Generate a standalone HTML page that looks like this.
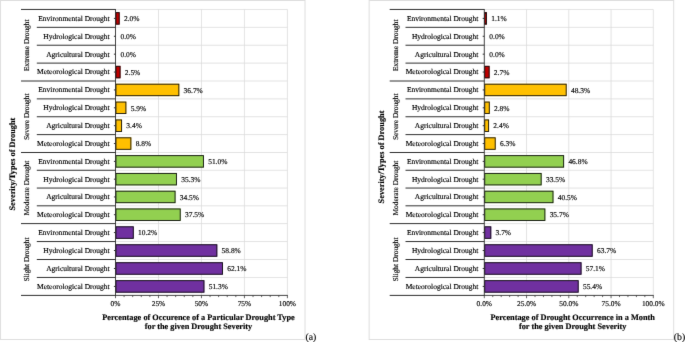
<!DOCTYPE html>
<html><head><meta charset="utf-8"><style>
html,body{margin:0;padding:0;background:#fff;width:685px;height:342px;overflow:hidden}
svg{display:block;will-change:transform}
text{font-family:"Liberation Serif",serif;fill:#000;text-rendering:geometricPrecision;stroke:#000;stroke-width:0.15px;paint-order:stroke}
.t{opacity:0.999}
</style></head><body>
<svg width="685" height="342" viewBox="0 0 685 342">
<rect width="685" height="342" fill="#fff"/>
<defs><filter id="bl" x="0" y="0" width="685" height="342" filterUnits="userSpaceOnUse" color-interpolation-filters="sRGB"><feConvolveMatrix order="3" kernelMatrix="0.00524 0.06192 0.00524 0.06192 0.73137 0.06192 0.00524 0.06192 0.00524" edgeMode="duplicate"/></filter></defs>
<g class="t" filter="url(#bl)">
<rect x="0.45" y="0.5" width="304.55" height="339" fill="none" stroke="#dedede" stroke-width="1"/>
<line x1="115.5" y1="9.45" x2="287.4" y2="9.45" stroke="#d9d9d9" stroke-width="0.75"/>
<line x1="115.5" y1="27.34" x2="287.4" y2="27.34" stroke="#d9d9d9" stroke-width="0.75"/>
<line x1="115.5" y1="45.22" x2="287.4" y2="45.22" stroke="#d9d9d9" stroke-width="0.75"/>
<line x1="115.5" y1="63.11" x2="287.4" y2="63.11" stroke="#d9d9d9" stroke-width="0.75"/>
<line x1="115.5" y1="81.00" x2="287.4" y2="81.00" stroke="#d9d9d9" stroke-width="0.75"/>
<line x1="115.5" y1="98.88" x2="287.4" y2="98.88" stroke="#d9d9d9" stroke-width="0.75"/>
<line x1="115.5" y1="116.75" x2="287.4" y2="116.75" stroke="#d9d9d9" stroke-width="0.75"/>
<line x1="115.5" y1="134.62" x2="287.4" y2="134.62" stroke="#d9d9d9" stroke-width="0.75"/>
<line x1="115.5" y1="152.50" x2="287.4" y2="152.50" stroke="#d9d9d9" stroke-width="0.75"/>
<line x1="115.5" y1="170.28" x2="287.4" y2="170.28" stroke="#d9d9d9" stroke-width="0.75"/>
<line x1="115.5" y1="188.05" x2="287.4" y2="188.05" stroke="#d9d9d9" stroke-width="0.75"/>
<line x1="115.5" y1="205.82" x2="287.4" y2="205.82" stroke="#d9d9d9" stroke-width="0.75"/>
<line x1="115.5" y1="223.60" x2="287.4" y2="223.60" stroke="#d9d9d9" stroke-width="0.75"/>
<line x1="115.5" y1="241.55" x2="287.4" y2="241.55" stroke="#d9d9d9" stroke-width="0.75"/>
<line x1="115.5" y1="259.50" x2="287.4" y2="259.50" stroke="#d9d9d9" stroke-width="0.75"/>
<line x1="115.5" y1="277.45" x2="287.4" y2="277.45" stroke="#d9d9d9" stroke-width="0.75"/>
<line x1="158.47" y1="9.45" x2="158.47" y2="295.4" stroke="#d9d9d9" stroke-width="0.75"/>
<line x1="201.45" y1="9.45" x2="201.45" y2="295.4" stroke="#d9d9d9" stroke-width="0.75"/>
<line x1="244.42" y1="9.45" x2="244.42" y2="295.4" stroke="#d9d9d9" stroke-width="0.75"/>
<line x1="287.40" y1="9.45" x2="287.40" y2="295.4" stroke="#d9d9d9" stroke-width="0.75"/>
<rect x="115.50" y="12.19" width="4.14" height="12.40" fill="#C00000"/>
<rect x="115.95" y="12.64" width="3.24" height="11.50" fill="none" stroke="#111" stroke-width="0.9"/>
<text x="123.94" y="21.14" font-size="7.45">2.0%</text>
<text x="120.50" y="39.03" font-size="7.45">0.0%</text>
<text x="120.50" y="56.92" font-size="7.45">0.0%</text>
<rect x="115.50" y="65.86" width="5.00" height="12.40" fill="#C00000"/>
<rect x="115.95" y="66.31" width="4.10" height="11.50" fill="none" stroke="#111" stroke-width="0.9"/>
<text x="124.80" y="74.81" font-size="7.45">2.5%</text>
<rect x="115.50" y="83.74" width="63.79" height="12.40" fill="#FFC000"/>
<rect x="115.95" y="84.19" width="62.89" height="11.50" fill="none" stroke="#111" stroke-width="0.9"/>
<text x="183.59" y="92.69" font-size="7.45">36.7%</text>
<rect x="115.50" y="101.61" width="10.84" height="12.40" fill="#FFC000"/>
<rect x="115.95" y="102.06" width="9.94" height="11.50" fill="none" stroke="#111" stroke-width="0.9"/>
<text x="130.64" y="110.56" font-size="7.45">5.9%</text>
<rect x="115.50" y="119.49" width="6.54" height="12.40" fill="#FFC000"/>
<rect x="115.95" y="119.94" width="5.64" height="11.50" fill="none" stroke="#111" stroke-width="0.9"/>
<text x="126.34" y="128.44" font-size="7.45">3.4%</text>
<rect x="115.50" y="137.36" width="15.83" height="12.40" fill="#FFC000"/>
<rect x="115.95" y="137.81" width="14.93" height="11.50" fill="none" stroke="#111" stroke-width="0.9"/>
<text x="135.63" y="146.31" font-size="7.45">8.8%</text>
<rect x="115.50" y="155.19" width="88.37" height="12.40" fill="#92D050"/>
<rect x="115.95" y="155.64" width="87.47" height="11.50" fill="none" stroke="#111" stroke-width="0.9"/>
<text x="208.17" y="164.14" font-size="7.45">51.0%</text>
<rect x="115.50" y="172.96" width="61.38" height="12.40" fill="#92D050"/>
<rect x="115.95" y="173.41" width="60.48" height="11.50" fill="none" stroke="#111" stroke-width="0.9"/>
<text x="181.18" y="181.91" font-size="7.45">35.3%</text>
<rect x="115.50" y="190.74" width="60.01" height="12.40" fill="#92D050"/>
<rect x="115.95" y="191.19" width="59.11" height="11.50" fill="none" stroke="#111" stroke-width="0.9"/>
<text x="179.81" y="199.69" font-size="7.45">34.5%</text>
<rect x="115.50" y="208.51" width="65.16" height="12.40" fill="#92D050"/>
<rect x="115.95" y="208.96" width="64.26" height="11.50" fill="none" stroke="#111" stroke-width="0.9"/>
<text x="184.96" y="217.46" font-size="7.45">37.5%</text>
<rect x="115.50" y="226.38" width="18.23" height="12.40" fill="#7030A0"/>
<rect x="115.95" y="226.82" width="17.33" height="11.50" fill="none" stroke="#111" stroke-width="0.9"/>
<text x="138.03" y="235.32" font-size="7.45">10.2%</text>
<rect x="115.50" y="244.32" width="101.78" height="12.40" fill="#7030A0"/>
<rect x="115.95" y="244.77" width="100.88" height="11.50" fill="none" stroke="#111" stroke-width="0.9"/>
<text x="221.58" y="253.27" font-size="7.45">58.8%</text>
<rect x="115.50" y="262.28" width="107.45" height="12.40" fill="#7030A0"/>
<rect x="115.95" y="262.73" width="106.55" height="11.50" fill="none" stroke="#111" stroke-width="0.9"/>
<text x="227.25" y="271.23" font-size="7.45">62.1%</text>
<rect x="115.50" y="280.22" width="88.88" height="12.40" fill="#7030A0"/>
<rect x="115.95" y="280.67" width="87.98" height="11.50" fill="none" stroke="#111" stroke-width="0.9"/>
<text x="208.68" y="289.17" font-size="7.45">51.3%</text>
<text x="109.7" y="20.79" font-size="7.5" text-anchor="end">Environmental Drought</text>
<line x1="113.90" y1="18.39" x2="115.5" y2="18.39" stroke="#303030" stroke-width="1"/>
<text x="109.7" y="38.68" font-size="7.5" text-anchor="end">Hydrological Drought</text>
<line x1="113.90" y1="36.28" x2="115.5" y2="36.28" stroke="#303030" stroke-width="1"/>
<text x="109.7" y="56.57" font-size="7.5" text-anchor="end">Agricultural Drought</text>
<line x1="113.90" y1="54.17" x2="115.5" y2="54.17" stroke="#303030" stroke-width="1"/>
<text x="109.7" y="74.46" font-size="7.5" text-anchor="end">Meteorological Drought</text>
<line x1="113.90" y1="72.06" x2="115.5" y2="72.06" stroke="#303030" stroke-width="1"/>
<text x="109.7" y="92.34" font-size="7.5" text-anchor="end">Environmental Drought</text>
<line x1="113.90" y1="89.94" x2="115.5" y2="89.94" stroke="#303030" stroke-width="1"/>
<text x="109.7" y="110.21" font-size="7.5" text-anchor="end">Hydrological Drought</text>
<line x1="113.90" y1="107.81" x2="115.5" y2="107.81" stroke="#303030" stroke-width="1"/>
<text x="109.7" y="128.09" font-size="7.5" text-anchor="end">Agricultural Drought</text>
<line x1="113.90" y1="125.69" x2="115.5" y2="125.69" stroke="#303030" stroke-width="1"/>
<text x="109.7" y="145.96" font-size="7.5" text-anchor="end">Meteorological Drought</text>
<line x1="113.90" y1="143.56" x2="115.5" y2="143.56" stroke="#303030" stroke-width="1"/>
<text x="109.7" y="163.79" font-size="7.5" text-anchor="end">Environmental Drought</text>
<line x1="113.90" y1="161.39" x2="115.5" y2="161.39" stroke="#303030" stroke-width="1"/>
<text x="109.7" y="181.56" font-size="7.5" text-anchor="end">Hydrological Drought</text>
<line x1="113.90" y1="179.16" x2="115.5" y2="179.16" stroke="#303030" stroke-width="1"/>
<text x="109.7" y="199.34" font-size="7.5" text-anchor="end">Agricultural Drought</text>
<line x1="113.90" y1="196.94" x2="115.5" y2="196.94" stroke="#303030" stroke-width="1"/>
<text x="109.7" y="217.11" font-size="7.5" text-anchor="end">Meteorological Drought</text>
<line x1="113.90" y1="214.71" x2="115.5" y2="214.71" stroke="#303030" stroke-width="1"/>
<text x="109.7" y="234.97" font-size="7.5" text-anchor="end">Environmental Drought</text>
<line x1="113.90" y1="232.57" x2="115.5" y2="232.57" stroke="#303030" stroke-width="1"/>
<text x="109.7" y="252.92" font-size="7.5" text-anchor="end">Hydrological Drought</text>
<line x1="113.90" y1="250.52" x2="115.5" y2="250.52" stroke="#303030" stroke-width="1"/>
<text x="109.7" y="270.88" font-size="7.5" text-anchor="end">Agricultural Drought</text>
<line x1="113.90" y1="268.48" x2="115.5" y2="268.48" stroke="#303030" stroke-width="1"/>
<text x="109.7" y="288.82" font-size="7.5" text-anchor="end">Meteorological Drought</text>
<line x1="113.90" y1="286.42" x2="115.5" y2="286.42" stroke="#303030" stroke-width="1"/>
<line x1="21" y1="9.45" x2="115.5" y2="9.45" stroke="#303030" stroke-width="1"/>
<line x1="36.8" y1="27.34" x2="115.5" y2="27.34" stroke="#303030" stroke-width="1"/>
<line x1="36.8" y1="45.22" x2="115.5" y2="45.22" stroke="#303030" stroke-width="1"/>
<line x1="36.8" y1="63.11" x2="115.5" y2="63.11" stroke="#303030" stroke-width="1"/>
<line x1="21" y1="81.00" x2="115.5" y2="81.00" stroke="#303030" stroke-width="1"/>
<line x1="36.8" y1="98.88" x2="115.5" y2="98.88" stroke="#303030" stroke-width="1"/>
<line x1="36.8" y1="116.75" x2="115.5" y2="116.75" stroke="#303030" stroke-width="1"/>
<line x1="36.8" y1="134.62" x2="115.5" y2="134.62" stroke="#303030" stroke-width="1"/>
<line x1="21" y1="152.50" x2="115.5" y2="152.50" stroke="#303030" stroke-width="1"/>
<line x1="36.8" y1="170.28" x2="115.5" y2="170.28" stroke="#303030" stroke-width="1"/>
<line x1="36.8" y1="188.05" x2="115.5" y2="188.05" stroke="#303030" stroke-width="1"/>
<line x1="36.8" y1="205.82" x2="115.5" y2="205.82" stroke="#303030" stroke-width="1"/>
<line x1="21" y1="223.60" x2="115.5" y2="223.60" stroke="#303030" stroke-width="1"/>
<line x1="36.8" y1="241.55" x2="115.5" y2="241.55" stroke="#303030" stroke-width="1"/>
<line x1="36.8" y1="259.50" x2="115.5" y2="259.50" stroke="#303030" stroke-width="1"/>
<line x1="36.8" y1="277.45" x2="115.5" y2="277.45" stroke="#303030" stroke-width="1"/>
<line x1="21" y1="295.40" x2="115.5" y2="295.40" stroke="#303030" stroke-width="1"/>
<text transform="translate(28.80,45.22) rotate(-90)" x="0" y="0" font-size="7.4" text-anchor="middle">Extreme Drought</text>
<text transform="translate(28.80,116.75) rotate(-90)" x="0" y="0" font-size="7.4" text-anchor="middle">Severe Drought</text>
<text transform="translate(28.80,188.05) rotate(-90)" x="0" y="0" font-size="7.4" text-anchor="middle">Moderate Drought</text>
<text transform="translate(28.80,259.50) rotate(-90)" x="0" y="0" font-size="7.4" text-anchor="middle">Slight Drought</text>
<text transform="translate(14.80,164.10) rotate(-90)" font-size="8.3" font-weight="bold" text-anchor="middle">Severity/Types of Drought</text>
<line x1="115.5" y1="9.049999999999999" x2="115.5" y2="295.79999999999995" stroke="#303030" stroke-width="0.9"/>
<line x1="115.1" y1="295.4" x2="287.79999999999995" y2="295.4" stroke="#303030" stroke-width="0.9"/>
<line x1="115.50" y1="295.4" x2="115.50" y2="298.2" stroke="#303030" stroke-width="0.75"/>
<line x1="124.09" y1="295.4" x2="124.09" y2="297.09999999999997" stroke="#303030" stroke-width="0.75"/>
<line x1="132.69" y1="295.4" x2="132.69" y2="297.09999999999997" stroke="#303030" stroke-width="0.75"/>
<line x1="141.28" y1="295.4" x2="141.28" y2="297.09999999999997" stroke="#303030" stroke-width="0.75"/>
<line x1="149.88" y1="295.4" x2="149.88" y2="297.09999999999997" stroke="#303030" stroke-width="0.75"/>
<line x1="158.47" y1="295.4" x2="158.47" y2="298.2" stroke="#303030" stroke-width="0.75"/>
<line x1="167.07" y1="295.4" x2="167.07" y2="297.09999999999997" stroke="#303030" stroke-width="0.75"/>
<line x1="175.66" y1="295.4" x2="175.66" y2="297.09999999999997" stroke="#303030" stroke-width="0.75"/>
<line x1="184.26" y1="295.4" x2="184.26" y2="297.09999999999997" stroke="#303030" stroke-width="0.75"/>
<line x1="192.85" y1="295.4" x2="192.85" y2="297.09999999999997" stroke="#303030" stroke-width="0.75"/>
<line x1="201.45" y1="295.4" x2="201.45" y2="298.2" stroke="#303030" stroke-width="0.75"/>
<line x1="210.04" y1="295.4" x2="210.04" y2="297.09999999999997" stroke="#303030" stroke-width="0.75"/>
<line x1="218.64" y1="295.4" x2="218.64" y2="297.09999999999997" stroke="#303030" stroke-width="0.75"/>
<line x1="227.23" y1="295.4" x2="227.23" y2="297.09999999999997" stroke="#303030" stroke-width="0.75"/>
<line x1="235.83" y1="295.4" x2="235.83" y2="297.09999999999997" stroke="#303030" stroke-width="0.75"/>
<line x1="244.42" y1="295.4" x2="244.42" y2="298.2" stroke="#303030" stroke-width="0.75"/>
<line x1="253.02" y1="295.4" x2="253.02" y2="297.09999999999997" stroke="#303030" stroke-width="0.75"/>
<line x1="261.62" y1="295.4" x2="261.62" y2="297.09999999999997" stroke="#303030" stroke-width="0.75"/>
<line x1="270.21" y1="295.4" x2="270.21" y2="297.09999999999997" stroke="#303030" stroke-width="0.75"/>
<line x1="278.80" y1="295.4" x2="278.80" y2="297.09999999999997" stroke="#303030" stroke-width="0.75"/>
<line x1="287.40" y1="295.4" x2="287.40" y2="298.2" stroke="#303030" stroke-width="0.75"/>
<text x="115.50" y="306.3" font-size="7.4" text-anchor="middle">0%</text>
<text x="158.47" y="306.3" font-size="7.4" text-anchor="middle">25%</text>
<text x="201.45" y="306.3" font-size="7.4" text-anchor="middle">50%</text>
<text x="244.42" y="306.3" font-size="7.4" text-anchor="middle">75%</text>
<text x="287.40" y="306.3" font-size="7.4" text-anchor="middle">100%</text>
<text x="198.5" y="319.7" font-size="8.3" font-weight="bold" text-anchor="middle">Percentage of Occurence of a Particular Drought Type</text>
<text x="198.5" y="329.1" font-size="8.3" font-weight="bold" text-anchor="middle">for the given Drought Severity</text>
<text x="305.4" y="340" font-size="9.8">(a)</text>
<rect x="369.15" y="0.5" width="304.55" height="339" fill="none" stroke="#dedede" stroke-width="1"/>
<line x1="484.3" y1="9.45" x2="653.3" y2="9.45" stroke="#d9d9d9" stroke-width="0.75"/>
<line x1="484.3" y1="27.34" x2="653.3" y2="27.34" stroke="#d9d9d9" stroke-width="0.75"/>
<line x1="484.3" y1="45.22" x2="653.3" y2="45.22" stroke="#d9d9d9" stroke-width="0.75"/>
<line x1="484.3" y1="63.11" x2="653.3" y2="63.11" stroke="#d9d9d9" stroke-width="0.75"/>
<line x1="484.3" y1="81.00" x2="653.3" y2="81.00" stroke="#d9d9d9" stroke-width="0.75"/>
<line x1="484.3" y1="98.88" x2="653.3" y2="98.88" stroke="#d9d9d9" stroke-width="0.75"/>
<line x1="484.3" y1="116.75" x2="653.3" y2="116.75" stroke="#d9d9d9" stroke-width="0.75"/>
<line x1="484.3" y1="134.62" x2="653.3" y2="134.62" stroke="#d9d9d9" stroke-width="0.75"/>
<line x1="484.3" y1="152.50" x2="653.3" y2="152.50" stroke="#d9d9d9" stroke-width="0.75"/>
<line x1="484.3" y1="170.28" x2="653.3" y2="170.28" stroke="#d9d9d9" stroke-width="0.75"/>
<line x1="484.3" y1="188.05" x2="653.3" y2="188.05" stroke="#d9d9d9" stroke-width="0.75"/>
<line x1="484.3" y1="205.82" x2="653.3" y2="205.82" stroke="#d9d9d9" stroke-width="0.75"/>
<line x1="484.3" y1="223.60" x2="653.3" y2="223.60" stroke="#d9d9d9" stroke-width="0.75"/>
<line x1="484.3" y1="241.55" x2="653.3" y2="241.55" stroke="#d9d9d9" stroke-width="0.75"/>
<line x1="484.3" y1="259.50" x2="653.3" y2="259.50" stroke="#d9d9d9" stroke-width="0.75"/>
<line x1="484.3" y1="277.45" x2="653.3" y2="277.45" stroke="#d9d9d9" stroke-width="0.75"/>
<line x1="526.55" y1="9.45" x2="526.55" y2="295.4" stroke="#d9d9d9" stroke-width="0.75"/>
<line x1="568.80" y1="9.45" x2="568.80" y2="295.4" stroke="#d9d9d9" stroke-width="0.75"/>
<line x1="611.05" y1="9.45" x2="611.05" y2="295.4" stroke="#d9d9d9" stroke-width="0.75"/>
<line x1="653.30" y1="9.45" x2="653.30" y2="295.4" stroke="#d9d9d9" stroke-width="0.75"/>
<rect x="484.30" y="12.19" width="2.56" height="12.40" fill="#C00000"/>
<rect x="484.75" y="12.64" width="1.66" height="11.50" fill="none" stroke="#111" stroke-width="0.9"/>
<text x="491.16" y="21.14" font-size="7.45">1.1%</text>
<text x="489.30" y="39.03" font-size="7.45">0.0%</text>
<text x="489.30" y="56.92" font-size="7.45">0.0%</text>
<rect x="484.30" y="65.86" width="5.26" height="12.40" fill="#C00000"/>
<rect x="484.75" y="66.31" width="4.36" height="11.50" fill="none" stroke="#111" stroke-width="0.9"/>
<text x="493.86" y="74.81" font-size="7.45">2.7%</text>
<rect x="484.30" y="83.74" width="82.33" height="12.40" fill="#FFC000"/>
<rect x="484.75" y="84.19" width="81.43" height="11.50" fill="none" stroke="#111" stroke-width="0.9"/>
<text x="570.93" y="92.69" font-size="7.45">48.3%</text>
<rect x="484.30" y="101.61" width="5.43" height="12.40" fill="#FFC000"/>
<rect x="484.75" y="102.06" width="4.53" height="11.50" fill="none" stroke="#111" stroke-width="0.9"/>
<text x="494.03" y="110.56" font-size="7.45">2.8%</text>
<rect x="484.30" y="119.49" width="4.76" height="12.40" fill="#FFC000"/>
<rect x="484.75" y="119.94" width="3.86" height="11.50" fill="none" stroke="#111" stroke-width="0.9"/>
<text x="493.36" y="128.44" font-size="7.45">2.4%</text>
<rect x="484.30" y="137.36" width="11.35" height="12.40" fill="#FFC000"/>
<rect x="484.75" y="137.81" width="10.45" height="11.50" fill="none" stroke="#111" stroke-width="0.9"/>
<text x="499.95" y="146.31" font-size="7.45">6.3%</text>
<rect x="484.30" y="155.19" width="79.79" height="12.40" fill="#92D050"/>
<rect x="484.75" y="155.64" width="78.89" height="11.50" fill="none" stroke="#111" stroke-width="0.9"/>
<text x="568.39" y="164.14" font-size="7.45">46.8%</text>
<rect x="484.30" y="172.96" width="57.31" height="12.40" fill="#92D050"/>
<rect x="484.75" y="173.41" width="56.41" height="11.50" fill="none" stroke="#111" stroke-width="0.9"/>
<text x="545.91" y="181.91" font-size="7.45">33.5%</text>
<rect x="484.30" y="190.74" width="69.14" height="12.40" fill="#92D050"/>
<rect x="484.75" y="191.19" width="68.24" height="11.50" fill="none" stroke="#111" stroke-width="0.9"/>
<text x="557.75" y="199.69" font-size="7.45">40.5%</text>
<rect x="484.30" y="208.51" width="61.03" height="12.40" fill="#92D050"/>
<rect x="484.75" y="208.96" width="60.13" height="11.50" fill="none" stroke="#111" stroke-width="0.9"/>
<text x="549.63" y="217.46" font-size="7.45">35.7%</text>
<rect x="484.30" y="226.38" width="6.95" height="12.40" fill="#7030A0"/>
<rect x="484.75" y="226.82" width="6.05" height="11.50" fill="none" stroke="#111" stroke-width="0.9"/>
<text x="495.55" y="235.32" font-size="7.45">3.7%</text>
<rect x="484.30" y="244.32" width="108.35" height="12.40" fill="#7030A0"/>
<rect x="484.75" y="244.77" width="107.45" height="11.50" fill="none" stroke="#111" stroke-width="0.9"/>
<text x="596.95" y="253.27" font-size="7.45">63.7%</text>
<rect x="484.30" y="262.28" width="97.20" height="12.40" fill="#7030A0"/>
<rect x="484.75" y="262.73" width="96.30" height="11.50" fill="none" stroke="#111" stroke-width="0.9"/>
<text x="585.80" y="271.23" font-size="7.45">57.1%</text>
<rect x="484.30" y="280.22" width="94.33" height="12.40" fill="#7030A0"/>
<rect x="484.75" y="280.67" width="93.43" height="11.50" fill="none" stroke="#111" stroke-width="0.9"/>
<text x="582.93" y="289.17" font-size="7.45">55.4%</text>
<text x="478.4" y="20.79" font-size="7.5" text-anchor="end">Environmental Drought</text>
<line x1="482.70" y1="18.39" x2="484.3" y2="18.39" stroke="#303030" stroke-width="1"/>
<text x="478.4" y="38.68" font-size="7.5" text-anchor="end">Hydrological Drought</text>
<line x1="482.70" y1="36.28" x2="484.3" y2="36.28" stroke="#303030" stroke-width="1"/>
<text x="478.4" y="56.57" font-size="7.5" text-anchor="end">Agricultural Drought</text>
<line x1="482.70" y1="54.17" x2="484.3" y2="54.17" stroke="#303030" stroke-width="1"/>
<text x="478.4" y="74.46" font-size="7.5" text-anchor="end">Meteorological Drought</text>
<line x1="482.70" y1="72.06" x2="484.3" y2="72.06" stroke="#303030" stroke-width="1"/>
<text x="478.4" y="92.34" font-size="7.5" text-anchor="end">Environmental Drought</text>
<line x1="482.70" y1="89.94" x2="484.3" y2="89.94" stroke="#303030" stroke-width="1"/>
<text x="478.4" y="110.21" font-size="7.5" text-anchor="end">Hydrological Drought</text>
<line x1="482.70" y1="107.81" x2="484.3" y2="107.81" stroke="#303030" stroke-width="1"/>
<text x="478.4" y="128.09" font-size="7.5" text-anchor="end">Agricultural Drought</text>
<line x1="482.70" y1="125.69" x2="484.3" y2="125.69" stroke="#303030" stroke-width="1"/>
<text x="478.4" y="145.96" font-size="7.5" text-anchor="end">Meteorological Drought</text>
<line x1="482.70" y1="143.56" x2="484.3" y2="143.56" stroke="#303030" stroke-width="1"/>
<text x="478.4" y="163.79" font-size="7.5" text-anchor="end">Environmental Drought</text>
<line x1="482.70" y1="161.39" x2="484.3" y2="161.39" stroke="#303030" stroke-width="1"/>
<text x="478.4" y="181.56" font-size="7.5" text-anchor="end">Hydrological Drought</text>
<line x1="482.70" y1="179.16" x2="484.3" y2="179.16" stroke="#303030" stroke-width="1"/>
<text x="478.4" y="199.34" font-size="7.5" text-anchor="end">Agricultural Drought</text>
<line x1="482.70" y1="196.94" x2="484.3" y2="196.94" stroke="#303030" stroke-width="1"/>
<text x="478.4" y="217.11" font-size="7.5" text-anchor="end">Meteorological Drought</text>
<line x1="482.70" y1="214.71" x2="484.3" y2="214.71" stroke="#303030" stroke-width="1"/>
<text x="478.4" y="234.97" font-size="7.5" text-anchor="end">Environmental Drought</text>
<line x1="482.70" y1="232.57" x2="484.3" y2="232.57" stroke="#303030" stroke-width="1"/>
<text x="478.4" y="252.92" font-size="7.5" text-anchor="end">Hydrological Drought</text>
<line x1="482.70" y1="250.52" x2="484.3" y2="250.52" stroke="#303030" stroke-width="1"/>
<text x="478.4" y="270.88" font-size="7.5" text-anchor="end">Agricultural Drought</text>
<line x1="482.70" y1="268.48" x2="484.3" y2="268.48" stroke="#303030" stroke-width="1"/>
<text x="478.4" y="288.82" font-size="7.5" text-anchor="end">Meteorological Drought</text>
<line x1="482.70" y1="286.42" x2="484.3" y2="286.42" stroke="#303030" stroke-width="1"/>
<line x1="389.7" y1="9.45" x2="484.3" y2="9.45" stroke="#303030" stroke-width="1"/>
<line x1="405.5" y1="27.34" x2="484.3" y2="27.34" stroke="#303030" stroke-width="1"/>
<line x1="405.5" y1="45.22" x2="484.3" y2="45.22" stroke="#303030" stroke-width="1"/>
<line x1="405.5" y1="63.11" x2="484.3" y2="63.11" stroke="#303030" stroke-width="1"/>
<line x1="389.7" y1="81.00" x2="484.3" y2="81.00" stroke="#303030" stroke-width="1"/>
<line x1="405.5" y1="98.88" x2="484.3" y2="98.88" stroke="#303030" stroke-width="1"/>
<line x1="405.5" y1="116.75" x2="484.3" y2="116.75" stroke="#303030" stroke-width="1"/>
<line x1="405.5" y1="134.62" x2="484.3" y2="134.62" stroke="#303030" stroke-width="1"/>
<line x1="389.7" y1="152.50" x2="484.3" y2="152.50" stroke="#303030" stroke-width="1"/>
<line x1="405.5" y1="170.28" x2="484.3" y2="170.28" stroke="#303030" stroke-width="1"/>
<line x1="405.5" y1="188.05" x2="484.3" y2="188.05" stroke="#303030" stroke-width="1"/>
<line x1="405.5" y1="205.82" x2="484.3" y2="205.82" stroke="#303030" stroke-width="1"/>
<line x1="389.7" y1="223.60" x2="484.3" y2="223.60" stroke="#303030" stroke-width="1"/>
<line x1="405.5" y1="241.55" x2="484.3" y2="241.55" stroke="#303030" stroke-width="1"/>
<line x1="405.5" y1="259.50" x2="484.3" y2="259.50" stroke="#303030" stroke-width="1"/>
<line x1="405.5" y1="277.45" x2="484.3" y2="277.45" stroke="#303030" stroke-width="1"/>
<line x1="389.7" y1="295.40" x2="484.3" y2="295.40" stroke="#303030" stroke-width="1"/>
<text transform="translate(397.50,45.22) rotate(-90)" x="0" y="0" font-size="7.4" text-anchor="middle">Extreme Drought</text>
<text transform="translate(397.50,116.75) rotate(-90)" x="0" y="0" font-size="7.4" text-anchor="middle">Severe Drought</text>
<text transform="translate(397.50,188.05) rotate(-90)" x="0" y="0" font-size="7.4" text-anchor="middle">Moderate Drought</text>
<text transform="translate(397.50,259.50) rotate(-90)" x="0" y="0" font-size="7.4" text-anchor="middle">Slight Drought</text>
<text transform="translate(383.50,157.00) rotate(-90)" font-size="8.3" font-weight="bold" text-anchor="middle">Severity/Types of Drought</text>
<line x1="484.3" y1="9.049999999999999" x2="484.3" y2="295.79999999999995" stroke="#303030" stroke-width="0.9"/>
<line x1="483.90000000000003" y1="295.4" x2="653.6999999999999" y2="295.4" stroke="#303030" stroke-width="0.9"/>
<line x1="484.30" y1="295.4" x2="484.30" y2="298.2" stroke="#303030" stroke-width="0.75"/>
<line x1="492.75" y1="295.4" x2="492.75" y2="297.09999999999997" stroke="#303030" stroke-width="0.75"/>
<line x1="501.20" y1="295.4" x2="501.20" y2="297.09999999999997" stroke="#303030" stroke-width="0.75"/>
<line x1="509.65" y1="295.4" x2="509.65" y2="297.09999999999997" stroke="#303030" stroke-width="0.75"/>
<line x1="518.10" y1="295.4" x2="518.10" y2="297.09999999999997" stroke="#303030" stroke-width="0.75"/>
<line x1="526.55" y1="295.4" x2="526.55" y2="298.2" stroke="#303030" stroke-width="0.75"/>
<line x1="535.00" y1="295.4" x2="535.00" y2="297.09999999999997" stroke="#303030" stroke-width="0.75"/>
<line x1="543.45" y1="295.4" x2="543.45" y2="297.09999999999997" stroke="#303030" stroke-width="0.75"/>
<line x1="551.90" y1="295.4" x2="551.90" y2="297.09999999999997" stroke="#303030" stroke-width="0.75"/>
<line x1="560.35" y1="295.4" x2="560.35" y2="297.09999999999997" stroke="#303030" stroke-width="0.75"/>
<line x1="568.80" y1="295.4" x2="568.80" y2="298.2" stroke="#303030" stroke-width="0.75"/>
<line x1="577.25" y1="295.4" x2="577.25" y2="297.09999999999997" stroke="#303030" stroke-width="0.75"/>
<line x1="585.70" y1="295.4" x2="585.70" y2="297.09999999999997" stroke="#303030" stroke-width="0.75"/>
<line x1="594.15" y1="295.4" x2="594.15" y2="297.09999999999997" stroke="#303030" stroke-width="0.75"/>
<line x1="602.60" y1="295.4" x2="602.60" y2="297.09999999999997" stroke="#303030" stroke-width="0.75"/>
<line x1="611.05" y1="295.4" x2="611.05" y2="298.2" stroke="#303030" stroke-width="0.75"/>
<line x1="619.50" y1="295.4" x2="619.50" y2="297.09999999999997" stroke="#303030" stroke-width="0.75"/>
<line x1="627.95" y1="295.4" x2="627.95" y2="297.09999999999997" stroke="#303030" stroke-width="0.75"/>
<line x1="636.40" y1="295.4" x2="636.40" y2="297.09999999999997" stroke="#303030" stroke-width="0.75"/>
<line x1="644.85" y1="295.4" x2="644.85" y2="297.09999999999997" stroke="#303030" stroke-width="0.75"/>
<line x1="653.30" y1="295.4" x2="653.30" y2="298.2" stroke="#303030" stroke-width="0.75"/>
<text x="484.30" y="306.3" font-size="7.4" text-anchor="middle">0.0%</text>
<text x="526.55" y="306.3" font-size="7.4" text-anchor="middle">25.0%</text>
<text x="568.80" y="306.3" font-size="7.4" text-anchor="middle">50.0%</text>
<text x="611.05" y="306.3" font-size="7.4" text-anchor="middle">75.0%</text>
<text x="653.30" y="306.3" font-size="7.4" text-anchor="middle">100.0%</text>
<text x="572.7" y="319.7" font-size="8.3" font-weight="bold" text-anchor="middle">Percentage of Drought Occurrence in a Month</text>
<text x="572.7" y="329.1" font-size="8.3" font-weight="bold" text-anchor="middle">for the given Drought Severity</text>
<text x="673.8" y="340" font-size="9.8">(b)</text>
</g>
</svg>
</body></html>
